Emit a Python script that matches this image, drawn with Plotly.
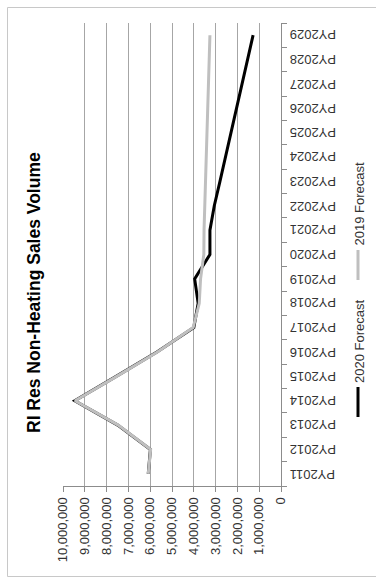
import plotly.graph_objects as go

# Program years on the category axis
years = ["PY2011", "PY2012", "PY2013", "PY2014", "PY2015", "PY2016", "PY2017",
         "PY2018", "PY2019", "PY2020", "PY2021", "PY2022", "PY2023", "PY2024",
         "PY2025", "PY2026", "PY2027", "PY2028", "PY2029"]

# Sales volume by forecast vintage
forecast_2020 = [6090000, 5990000, 7490000, 9460000, 7560000, 5690000, 4000000,
                 3800000, 3960000, 3260000, 3260000, 3060000, 2800000, 2550000,
                 2300000, 2040000, 1790000, 1530000, 1280000]
forecast_2019 = [6090000, 5980000, 7470000, 9450000, 7540000, 5670000, 4030000,
                 3750000, 3690000, 3540000, 3530000, 3500000, 3460000, 3420000,
                 3390000, 3350000, 3320000, 3290000, 3260000]

value_ticks = list(range(0, 10000001, 1000000))

W, H = 376, 578
L, R, T, B = 63, 95, 23, 92
PW, PH = W - L - R, H - T - B


def px(x):
    return (x - L) / PW


def py(y):
    return (H - B - y) / PH


AXIS = "#8c8c8c"
GRID = "#a6a6a6"
TXT = "#333333"
FONT = "Liberation Sans"

fig = go.Figure()

fig.add_trace(go.Scatter(
    x=forecast_2020, y=years, mode="lines", name="2020 Forecast",
    line=dict(color="#000000", width=3), showlegend=False))
fig.add_trace(go.Scatter(
    x=forecast_2019, y=years, mode="lines", name="2019 Forecast",
    line=dict(color="#bfbfbf", width=3), showlegend=False))

fig.update_xaxes(
    range=[10000000, 0], tickvals=value_ticks, tickformat=",",
    tickangle=-90, tickfont=dict(family=FONT, size=13, color=TXT),
    showgrid=True, gridcolor=GRID, gridwidth=1,
    showline=True, linecolor=AXIS, linewidth=1,
    ticks="outside", ticklen=5, tickcolor=AXIS,
    zeroline=False, fixedrange=True)

fig.update_yaxes(
    type="category", categoryorder="array", categoryarray=years,
    range=[-0.5, len(years) - 0.5], side="right",
    showticklabels=False,
    showgrid=False, showline=True, linecolor=AXIS, linewidth=1,
    ticks="outside", ticklen=5, tickcolor=AXIS, tickson="boundaries",
    zeroline=False, fixedrange=True)

shapes = [
    # outer chart border
    dict(type="rect", xref="paper", yref="paper",
         x0=px(7.5), x1=px(378), y0=py(576.5), y1=py(7.5),
         line=dict(color="#c8c8c8", width=1), layer="below"),
    # legend keys
    dict(type="line", xref="paper", yref="paper",
         x0=px(358), x1=px(358), y0=py(417), y1=py(387),
         line=dict(color="#000000", width=3)),
    dict(type="line", xref="paper", yref="paper",
         x0=px(358), x1=px(358), y0=py(280), y1=py(250),
         line=dict(color="#bfbfbf", width=3)),
]

annotations = [
    dict(text="<b>RI Res Non-Heating Sales Volume</b>", xref="paper", yref="paper",
         x=px(33.5), y=py(292.5), xanchor="center", yanchor="middle",
         textangle=-90, showarrow=False,
         font=dict(family=FONT, size=17.5, color="#000000")),
    dict(text="2020 Forecast", xref="paper", yref="paper",
         x=px(359.5), y=py(341.5), xanchor="center", yanchor="middle",
         textangle=-90, showarrow=False,
         font=dict(family=FONT, size=13, color=TXT)),
    dict(text="2019 Forecast", xref="paper", yref="paper",
         x=px(359.5), y=py(204), xanchor="center", yanchor="middle",
         textangle=-90, showarrow=False,
         font=dict(family=FONT, size=13, color=TXT)),
]

# category labels, drawn upside down beside the axis
for yr in years:
    annotations.append(dict(
        text=yr, xref="paper", yref="y", x=px(288), y=yr,
        xanchor="left", yanchor="middle", textangle=180, showarrow=False,
        font=dict(family=FONT, size=13, color=TXT)))

fig.update_layout(
    width=W, height=H,
    margin=dict(l=L, r=R, t=T, b=B, pad=0),
    paper_bgcolor="#ffffff", plot_bgcolor="#ffffff",
    showlegend=False, shapes=shapes, annotations=annotations,
    hovermode=False)

fig.write_html("out.html", config={"displayModeBar": False})
